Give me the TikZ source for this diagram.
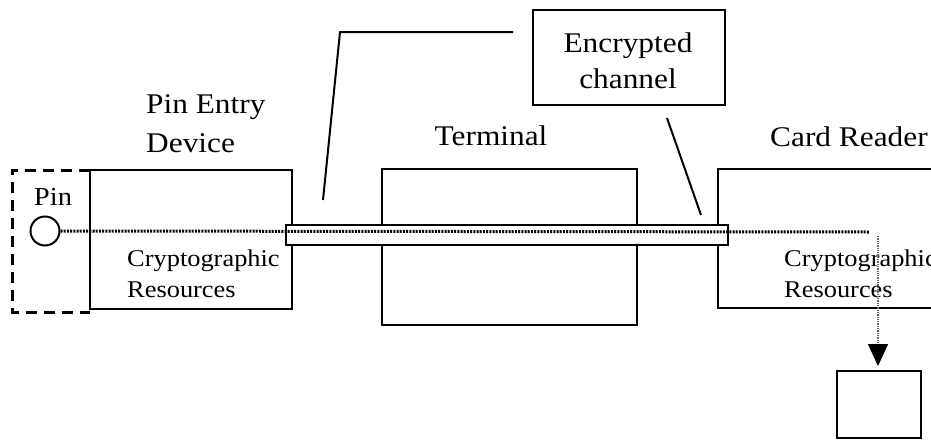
\documentclass[tikz,border=0pt]{standalone}
\usepackage{fontspec}
\setmainfont[FakeStretch=1.1]{Liberation Serif}
\usetikzlibrary{arrows.meta}
\begin{document}
\begin{tikzpicture}[x=1pt,y=-1pt,
  box/.style={draw, line width=2pt},
  big/.style={font=\fontsize{28.5}{39}\selectfont, inner sep=0pt},
  small/.style={font=\fontsize{24}{30.5}\selectfont, inner sep=0pt, align=left},
  dotline/.style={line width=3pt, dash pattern=on 2pt off 1.2pt},
  thindot/.style={line width=1.4pt, black!60, dash pattern=on 1.3pt off 1pt},
  leader/.style={line width=2pt}]
\useasboundingbox (0,0) rectangle (931,439);
% boxes
\draw[box] (90,170) rectangle (292,309);
\draw[box] (382,169) rectangle (637,325);
\draw[box] (945,169) -- (718,169) -- (718,308) -- (945,308);
\draw[line width=3pt, dash pattern=on 11pt off 7pt] (90,170) -- (12,170) -- (12,312) -- (90,312);
% tube
\draw[box, fill=white] (286,225) rectangle (728,245);
% pin
\node[draw, circle, line width=2pt, minimum size=29pt, inner sep=0pt] (pin) at (45,231) {};
\node[inner sep=0pt, font=\fontsize{26}{30}\selectfont, anchor=base] (pinlbl) at (53,205) {Pin};
% labels
\node[big, align=left, anchor=base west] (ped) at (146,152) {Pin Entry\\Device};
\node[big, anchor=base] (term) at (491,145) {Terminal};
\node[big, anchor=base west] (card) at (770,146) {Card Reader};
\node[small, anchor=base west] (crl) at (127,297) {Cryptographic\\Resources};
\node[small, anchor=base west] (crr) at (784,297) {Cryptographic\\Resources};
% encrypted channel box
\node[box, minimum width=192pt, minimum height=95pt] (enc) at (629,57.5) {};
\node[big, align=center, anchor=base, font=\fontsize{28.5}{36}\selectfont] (enctxt) at (628,88) {Encrypted\\channel};
% leaders
\coordinate (l1) at (513,32);
\coordinate (l2) at (340,32);
\coordinate (l3) at (323,200);
\coordinate (r1) at (667,118);
\coordinate (r2) at (701,215);
\draw[leader] (l1) -- (l2) -- (l3);
\draw[leader] (r1) -- (r2);
% dotted path
\coordinate (dend) at (870,232);
\draw[dotline] (pin.east) -- (dend);
\node[box, minimum width=84pt, minimum height=67pt, inner sep=0pt] (out) at (879,404.5) {};
\coordinate (vstart) at (878,236);
\coordinate (vtip) at (878,366);
\draw[thindot, -{Triangle[width=20pt,length=22pt,black]}] (vstart) -- (vtip);
\end{tikzpicture}
\end{document}
